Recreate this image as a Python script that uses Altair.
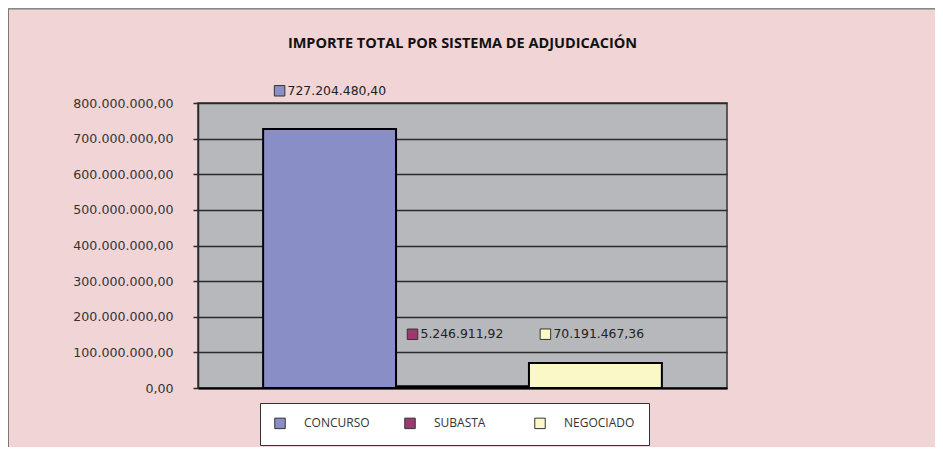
import altair as alt
import pandas as pd

title_text = "IMPORTE TOTAL POR SISTEMA DE ADJUDICACIÓN"
categories = ["CONCURSO", "SUBASTA", "NEGOCIADO"]
values = [727204480.40, 5246911.92, 70191467.36]
colors = ["#8A8EC6", "#9B3A6E", "#FAF8C6"]
y_ticks = [0, 100000000, 200000000, 300000000, 400000000,
           500000000, 600000000, 700000000, 800000000]


def es_fmt(v):
    s = f"{v:,.2f}"
    return s.replace(",", "_").replace(".", ",").replace("_", ".")


labels = [es_fmt(v) for v in values]
df = pd.DataFrame({"sistema": categories, "importe": values, "etiqueta": labels})

FONT = "Open Sans"
NUM_FONT = "DejaVu Sans"

x_enc = alt.X(
    "sistema:N", sort=categories, title=None,
    scale=alt.Scale(paddingInner=0, paddingOuter=0.49),
    axis=alt.Axis(labels=False, ticks=False, domainColor="#000", domainWidth=2),
)
y_scale = alt.Scale(domain=[0, 800000000], nice=False)
y_axis = alt.Axis(
    values=y_ticks, title=None, grid=True, gridColor="#2a2a2a", gridWidth=1.5,
    tickColor="#2a2a2a", tickSize=5, tickWidth=1.5, labelPadding=20,
    labelFont=NUM_FONT, labelFontSize=12.6, labelColor="#333", labelOverlap=False,
    domainColor="#2a2a2a", domainWidth=1.5,
    labelExpr="replace(replace(replace(format(datum.value, ',.2f'), /,/g, '_'), /[.]/g, ','), /_/g, '.')",
)
color_scale = alt.Scale(domain=categories, range=colors)
color_enc = alt.Color(
    "sistema:N", sort=categories, scale=color_scale,
    legend=alt.Legend(
        orient="none", legendX=62, legendY=300, direction="horizontal",
        columns=3, title=None, fillColor="white", strokeColor="#333",
        padding=14, symbolType="square", symbolSize=110,
        symbolStrokeColor="#333", symbolStrokeWidth=1, symbolOpacity=1,
        labelOffset=18, columnPadding=27, gridAlign="all",
        labelFont=FONT, labelFontSize=12, labelColor="#333",
    ),
)

base = alt.Chart(df)

bars = base.mark_bar(stroke="#000", strokeWidth=2, opacity=1).encode(
    x=x_enc,
    y=alt.Y("importe:Q", scale=y_scale, axis=y_axis),
    color=color_enc,
)

lab_base = base.transform_calculate(
    label_y="max(datum.importe, 70000000) * 1.04 + 78000000"
)

label_sq = lab_base.mark_square(
    size=110, filled=True, stroke="#333", strokeWidth=1, opacity=1, xOffset=-50
).encode(
    x=x_enc,
    y=alt.Y("label_y:Q", scale=y_scale, axis=y_axis),
    color=alt.Color("sistema:N", sort=categories, scale=color_scale, legend=None),
)

label_txt = lab_base.mark_text(
    align="left", baseline="middle", dx=-42, font=NUM_FONT, fontSize=12.4, color="#222"
).encode(
    x=x_enc,
    y=alt.Y("label_y:Q", scale=y_scale, axis=y_axis),
    text="etiqueta:N",
)

frame_left = alt.Chart(df).mark_rule(color="#333", strokeWidth=1.5).encode(
    x=alt.value(-190.5), y=alt.value(-95), y2=alt.value(350)
)
frame_top = alt.Chart(df).mark_rule(color="#888", strokeWidth=1.5).encode(
    x=alt.value(-190), x2=alt.value(760), y=alt.value(-94.5)
)

chart = alt.layer(frame_left, frame_top, bars, label_sq, label_txt).properties(
    width=529, height=285,
    padding={"left": 190, "top": 95, "right": 208, "bottom": 59},
    autosize=alt.AutoSizeParams(type="none"),
    background="#F0D4D6",
    title=alt.TitleParams(
        title_text, font=FONT, fontSize=14.5, fontWeight="bold", color="#111",
        anchor="middle", offset=-44,
    ),
).configure_view(
    fill="#B7B8BC", stroke="#333", strokeWidth=1.5
)

chart.save("out.html", embed_options={"renderer": "svg", "actions": False})
